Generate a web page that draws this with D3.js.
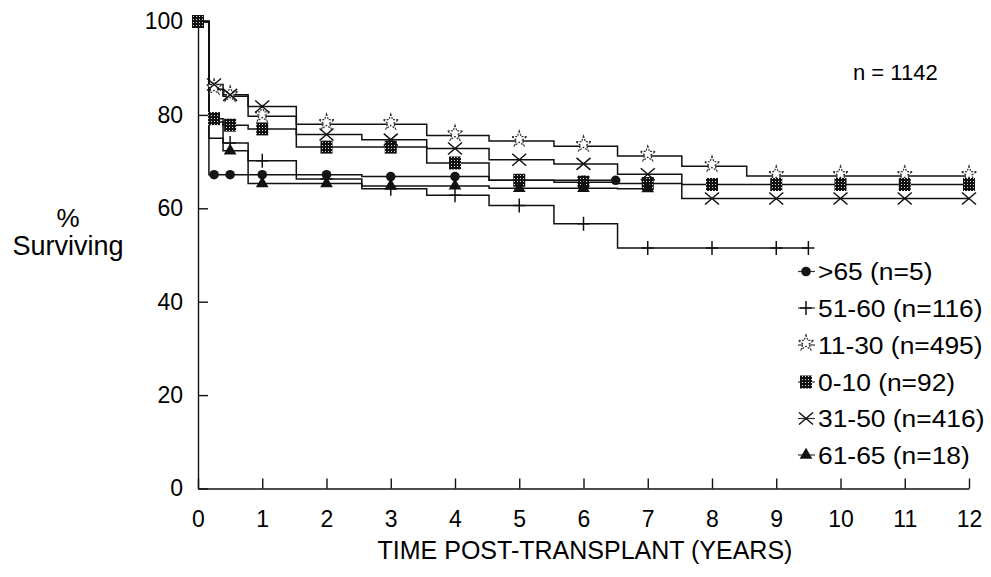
<!DOCTYPE html>
<html>
<head>
<meta charset="utf-8">
<script src="https://cdn.jsdelivr.net/npm/d3@7"></script>
<style>
  body { margin: 0; background: #fff; }
  text { font-family: "Liberation Sans", Arial, Helvetica, sans-serif; fill: #000; }
</style>
</head>
<body>
<svg id="chart" width="991" height="577"></svg>
<script>
// Age groups, in legend order
const groups = [">65 (n=5)", "51-60 (n=116)", "11-30 (n=495)", "0-10 (n=92)", "31-50 (n=416)", "61-65 (n=18)"];

// Interval boundaries (years) at which the survival estimates step
const stepTimes = [0, 0.17, 0.39, 0.78, 1.53, 2.55, 3.56, 4.53, 5.54, 6.53, 7.53, 8.54];

// % surviving from each boundary onward
const survOver65  = [100, 67.2, 67.2, 67.2, 67.2, 66.8, 66.8, 66.0, 66.0];
const surv51to60  = [100, 75.0, 74.0, 70.2, 66.3, 64.2, 62.8, 60.6, 56.7, 51.5, 51.5, 51.5];
const surv11to30  = [100, 85.5, 84.0, 79.7, 78.0, 78.0, 75.6, 74.4, 73.3, 71.2, 69.0, 66.9];
const surv0to10   = [100, 79.2, 77.8, 77.0, 73.1, 73.1, 69.7, 66.0, 65.6, 65.3, 65.1, 65.1];
const surv31to50  = [100, 86.5, 84.3, 81.8, 75.8, 74.7, 72.8, 70.4, 69.5, 67.3, 62.1, 62.1];
const surv61to65  = [100, 78.5, 72.3, 65.3, 65.3, 64.8, 64.8, 64.3, 64.3, 64.2];

// Last follow-up time of each group (years)
const endTimes = [6.5, 9.5, 12, 12, 12, 7];

// Times at which a symbol is drawn on each curve
const marksOver65 = [0.25, 0.5, 1, 2, 3, 4, 5, 6, 6.5];
const marks51to60 = [0.5, 1, 2, 3, 4, 5, 6, 7, 8, 9, 9.5];
const marks11to30 = [0.25, 0.5, 1, 2, 3, 4, 5, 6, 7, 8, 9, 10, 11, 12];
const marks0to10  = [0, 0.25, 0.5, 1, 2, 3, 4, 5, 6, 7, 8, 9, 10, 11, 12];
const marks31to50 = [0.25, 0.5, 1, 2, 3, 4, 5, 6, 7, 8, 9, 10, 11, 12];
const marks61to65 = [0.5, 1, 2, 3, 4, 5, 6, 7];

const symbols = ["circle", "plus", "star", "square", "cross", "triangle"];

const xTicks = [0, 1, 2, 3, 4, 5, 6, 7, 8, 9, 10, 11, 12];
const yTicks = [0, 20, 40, 60, 80, 100];

const survivals = [survOver65, surv51to60, surv11to30, surv0to10, surv31to50, surv61to65];
const markTimes = [marksOver65, marks51to60, marks11to30, marks0to10, marks31to50, marks61to65];

const series = groups.map((name, i) => ({
  name, values: survivals[i], end: endTimes[i], marks: markTimes[i], symbol: symbols[i]
}));

const svg = d3.select("#chart");

// dotted fill for the square symbol
const defs = svg.append("defs");
const pat = defs.append("pattern").attr("id", "dots")
  .attr("width", 3).attr("height", 3).attr("patternUnits", "userSpaceOnUse");
pat.append("rect").attr("width", 3).attr("height", 3).attr("fill", "#111");
pat.append("rect").attr("x", 1).attr("y", 1).attr("width", 1).attr("height", 1).attr("fill", "#ddd");

const x = d3.scaleLinear().domain([0, 12]).range([198, 969]);
const y = d3.scaleLinear().domain([0, 100]).range([488.5, 21.5]);

// axes: ticks point into the plot
const xAxis = d3.axisBottom(x).tickValues(xTicks).tickSizeInner(-10).tickSizeOuter(0).tickPadding(22);
const yAxis = d3.axisLeft(y).tickValues(yTicks).tickSizeInner(-10).tickSizeOuter(0).tickPadding(15);

const gx = svg.append("g").attr("transform", `translate(0,${y(0)})`).call(xAxis);
const gy = svg.append("g").attr("transform", `translate(${x(0)},0)`).call(yAxis);
[gx, gy].forEach(g => {
  g.selectAll("path, line").attr("stroke", "#111").attr("stroke-width", 1.4);
  g.selectAll("text").attr("font-size", 23).attr("font-family", "Liberation Sans, Arial, sans-serif").attr("fill", "#000");
});

// axis titles
svg.append("text").attr("x", 585).attr("y", 559).attr("text-anchor", "middle")
  .attr("font-size", 25).text("TIME POST-TRANSPLANT (YEARS)");
svg.append("text").attr("x", 68).attr("y", 227).attr("text-anchor", "middle")
  .attr("font-size", 26).text("%");
svg.append("text").attr("x", 68).attr("y", 255).attr("text-anchor", "middle")
  .attr("font-size", 27).text("Surviving");
svg.append("text").attr("x", 853).attr("y", 80).attr("font-size", 22).text("n = 1142");

// step lookup
function survAt(s, t) {
  let v = s.values[0];
  for (let i = 0; i < s.values.length; i++) if (stepTimes[i] <= t) v = s.values[i];
  return v;
}

const line = d3.line().x(d => x(d[0])).y(d => y(d[1])).curve(d3.curveStepAfter);

series.forEach(s => {
  const pts = s.values.map((v, i) => [stepTimes[i], v]);
  pts.push([s.end, s.values[s.values.length - 1]]);
  svg.append("path").datum(pts).attr("d", line)
    .attr("fill", "none").attr("stroke", "#111").attr("stroke-width", 1.5);
});

function drawSymbol(g, type, cx, cy) {
  switch (type) {
    case "circle":
      g.append("circle").attr("cx", cx).attr("cy", cy).attr("r", 4.8).attr("fill", "#151515");
      break;
    case "plus":
      g.append("path").attr("d", `M${cx},${cy - 7}V${cy + 7}M${cx - 6},${cy}H${cx + 6}`)
        .attr("stroke", "#111").attr("stroke-width", 1.5).attr("fill", "none");
      break;
    case "star":
      g.append("path").attr("transform", `translate(${cx},${cy - 2})`)
        .attr("d", d3.symbol(d3.symbolStar).size(75)())
        .attr("fill", "#fff").attr("stroke", "#333").attr("stroke-width", 1.2)
        .attr("stroke-dasharray", "2,1.2");
      break;
    case "square":
      g.append("rect").attr("x", cx - 6).attr("y", cy - 6.5).attr("width", 12).attr("height", 13)
        .attr("fill", "url(#dots)");
      break;
    case "cross":
      g.append("path").attr("d", `M${cx - 7},${cy - 6}L${cx + 7},${cy + 6}M${cx - 7},${cy + 6}L${cx + 7},${cy - 6}`)
        .attr("stroke", "#111").attr("stroke-width", 1.5).attr("fill", "none");
      break;
    case "triangle":
      g.append("path").attr("transform", `translate(${cx},${cy})`)
        .attr("d", d3.symbol(d3.symbolTriangle).size(70)())
        .attr("fill", "#111");
      break;
  }
}

// curve symbols
series.forEach(s => {
  const g = svg.append("g");
  s.marks.forEach(t => drawSymbol(g, s.symbol, x(t), y(survAt(s, t))));
});

// legend
const legendY = [271.5, 308, 345, 382, 418.5, 455];
series.forEach((s, i) => {
  const g = svg.append("g");
  const ly = legendY[i];
  g.append("line").attr("x1", 798).attr("x2", 815).attr("y1", ly).attr("y2", ly)
    .attr("stroke", "#333").attr("stroke-width", 1.2);
  drawSymbol(g, s.symbol, 806, ly);
  g.append("text").attr("x", 818).attr("y", ly + 9)
    .attr("font-size", 24)
    .attr("transform", `translate(818,0) scale(1.1,1) translate(-818,0)`)
    .text(s.name);
});
</script>
</body>
</html>
